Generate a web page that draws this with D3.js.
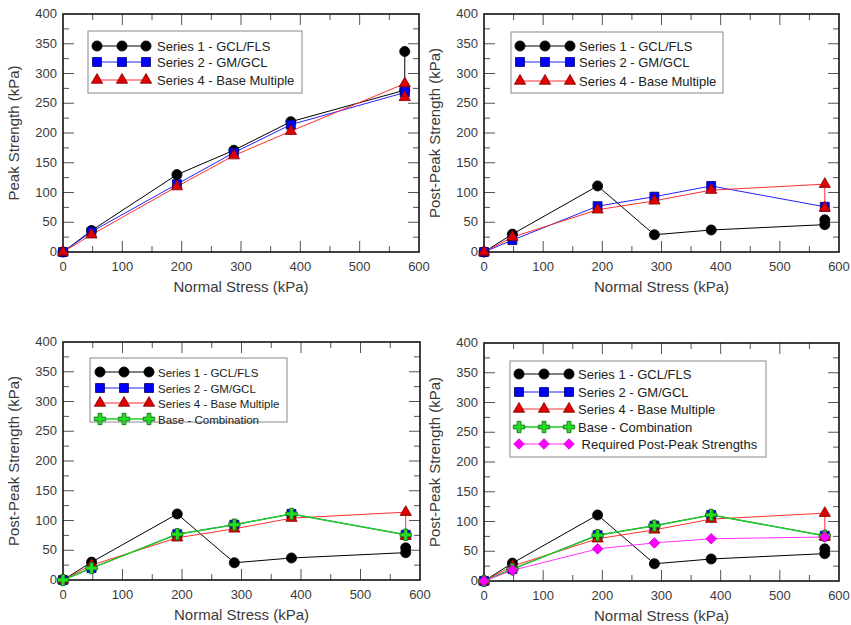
<!DOCTYPE html>
<html><head><meta charset="utf-8">
<script src="https://cdn.jsdelivr.net/npm/d3@7"></script>
<style>body{margin:0;background:#fff;}svg{display:block;font-family:"Liberation Sans",Arial,sans-serif;}</style>
</head><body>
<svg id="chart" width="851" height="625"></svg>
<script>
// ---- data ----
const xTicks = [0,100,200,300,400,500,600];
const yTicks = [0,50,100,150,200,250,300,350,400];
const peakS1 = [[0,0],[48,36],[192,130],[288,171],[384,219],[576,272],[576,337]];
const peakS2 = [[0,0],[48,34],[192,114],[288,167],[384,214],[576,268],[576,272]];
const peakS4 = [[0,0],[48,29],[192,110],[288,162],[384,203],[576,283],[576,260]];
const postS1 = [[0,0],[48,30],[192,111],[288,29],[384,37],[576,46],[576,54]];
const postS2 = [[0,0],[48,20],[192,77],[288,93],[384,111],[576,76]];
const postS4 = [[0,0],[48,25],[192,71],[288,86],[384,104],[576,114],[576,74]];
const baseComb = [[0,0],[48,20],[192,77],[288,93],[384,111],[576,76]];
const required = [[0,0],[48,18],[192,54],[288,64],[384,71],[576,74]];
const names = ["Series 1 - GCL/FLS","Series 2 - GM/GCL","Series 4 - Base Multiple","Base - Combination"," Required Post-Peak Strengths"];

const squareDiamond = {draw(ctx,size){const r=Math.sqrt(size/2);ctx.moveTo(0,-r);ctx.lineTo(r,0);ctx.lineTo(0,r);ctx.lineTo(-r,0);ctx.closePath();}};

const styles = {
  s1:{line:"#000", lw:1, sym:d3.symbolCircle, size:80, fill:"#000", stroke:"#000"},
  s2:{line:"#2222ff", lw:1, sym:d3.symbolSquare, size:80, fill:"#0000ff", stroke:"#000066"},
  s4:{line:"#ff3030", lw:1, sym:d3.symbolTriangle, size:55, fill:"#e00000", stroke:"#800000"},
  bc:{line:"#22cc22", lw:1.5, sym:d3.symbolCross, size:72, fill:"#22dd22", stroke:"#116611"},
  rq:{line:"#ff33ff", lw:1, sym:squareDiamond, size:56, fill:"#ff00ff", stroke:"#cc00cc"}
};

const panels = [
  {x0:63,x1:419,y0:14,y1:252,ytitle:"Peak Strength (kPa)",
   series:[["s1",peakS1,0],["s2",peakS2,1],["s4",peakS4,2]],
   leg:{x:88,y:31,w:214,h:62,rows:[46,62,80],mx:[97,122,146],tx:157,fs:13}},
  {x0:484,x1:839,y0:14,y1:252,ytitle:"Post-Peak Strength (kPa)",
   series:[["s1",postS1,0],["s2",postS2,1],["s4",postS4,2]],
   leg:{x:511,y:32,w:212,h:61,rows:[46,62,81],mx:[520,545,570],tx:579,fs:13}},
  {x0:63,x1:420,y0:342,y1:580,ytitle:"Post-Peak Strength (kPa)",
   series:[["s1",postS1,0],["s2",postS2,1],["s4",postS4,2],["bc",baseComb,3]],
   leg:{x:90,y:358,w:197,h:64,rows:[372,388,403,419],mx:[100,124,149],tx:158,fs:11.5}},
  {x0:484,x1:839,y0:343,y1:581,ytitle:"Post-Peak Strength (kPa)",
   series:[["s1",postS1,0],["s2",postS2,1],["s4",postS4,2],["bc",baseComb,3],["rq",required,4]],
   leg:{x:510,y:361,w:256,h:96,rows:[374,392,409,427,444],mx:[519,544,569],tx:578,fs:13}}
];

const svg = d3.select("#chart");
const txtCol = "#3a3a3a";

panels.forEach(p => {
  const g = svg.append("g");
  const x = d3.scaleLinear().domain([0,600]).range([p.x0,p.x1]);
  const y = d3.scaleLinear().domain([0,400]).range([p.y1,p.y0]);

  // ticks inward on all sides
  const tk = g.append("g").attr("stroke","#555").attr("stroke-width",1);
  d3.range(0,601,50).forEach(v => {
    const L = v%100===0 ? 11 : 6;
    if (v>0 && v<600) {
      tk.append("line").attr("x1",x(v)).attr("x2",x(v)).attr("y1",p.y1).attr("y2",p.y1-L);
      tk.append("line").attr("x1",x(v)).attr("x2",x(v)).attr("y1",p.y0).attr("y2",p.y0+L);
    }
  });
  d3.range(0,401,25).forEach(v => {
    const L = v%50===0 ? 11 : 6;
    if (v>0 && v<400) {
      tk.append("line").attr("y1",y(v)).attr("y2",y(v)).attr("x1",p.x0).attr("x2",p.x0+L);
      tk.append("line").attr("y1",y(v)).attr("y2",y(v)).attr("x1",p.x1).attr("x2",p.x1-L);
    }
  });
  g.append("rect").attr("x",p.x0).attr("y",p.y0).attr("width",p.x1-p.x0).attr("height",p.y1-p.y0)
    .attr("fill","none").attr("stroke","#111").attr("stroke-width",1.6);

  // tick labels
  g.selectAll(".xl").data(xTicks).enter().append("text")
    .attr("x",d=>x(d)).attr("y",p.y1+19).attr("text-anchor","middle")
    .attr("font-size",13).attr("fill",txtCol).text(d=>d);
  g.selectAll(".yl").data(yTicks).enter().append("text")
    .attr("x",p.x0-6).attr("y",d=>y(d)+4).attr("text-anchor","end")
    .attr("font-size",13).attr("fill",txtCol).text(d=>d);
  g.append("text").attr("x",(p.x0+p.x1)/2).attr("y",p.y1+40).attr("text-anchor","middle")
    .attr("font-size",15).attr("fill",txtCol).text("Normal Stress (kPa)");
  g.append("text").attr("transform",`translate(${p.x0-44},${(p.y0+p.y1)/2}) rotate(-90)`)
    .attr("text-anchor","middle").attr("font-size",15).attr("fill",txtCol).text(p.ytitle);

  // series
  const line = d3.line().x(d=>x(d[0])).y(d=>y(d[1]));
  p.series.forEach(([k,data]) => {
    const s = styles[k];
    g.append("path").attr("d",line(data)).attr("fill","none").attr("stroke",s.line).attr("stroke-width",s.lw);
  });
  p.series.forEach(([k,data]) => {
    const s = styles[k];
    const sym = d3.symbol().type(s.sym).size(s.size);
    g.selectAll(null).data(data).enter().append("path")
      .attr("d",sym()).attr("transform",d=>`translate(${x(d[0])},${y(d[1])})`)
      .attr("fill",s.fill).attr("stroke",s.stroke).attr("stroke-width",0.8);
  });

  // legend
  const L = p.leg;
  const lg = svg.append("g");
  lg.append("rect").attr("x",L.x).attr("y",L.y).attr("width",L.w).attr("height",L.h)
    .attr("fill","#fff").attr("stroke","#888").attr("stroke-width",1);
  p.series.forEach(([k,data,ni],i) => {
    const s = styles[k];
    const ry = L.rows[i];
    lg.append("line").attr("x1",L.mx[0]).attr("x2",L.mx[2]).attr("y1",ry).attr("y2",ry)
      .attr("stroke",s.line).attr("stroke-width",s.lw);
    const sym = d3.symbol().type(s.sym).size(s.size);
    L.mx.forEach(mx => {
      lg.append("path").attr("d",sym()).attr("transform",`translate(${mx},${ry})`)
        .attr("fill",s.fill).attr("stroke",s.stroke).attr("stroke-width",0.8);
    });
    lg.append("text").attr("x",L.tx).attr("y",ry+4.5).attr("font-size",L.fs).attr("fill","#222")
      .attr("xml:space","preserve").style("white-space","pre").text(names[ni]);
  });
});
</script>
</body></html>
